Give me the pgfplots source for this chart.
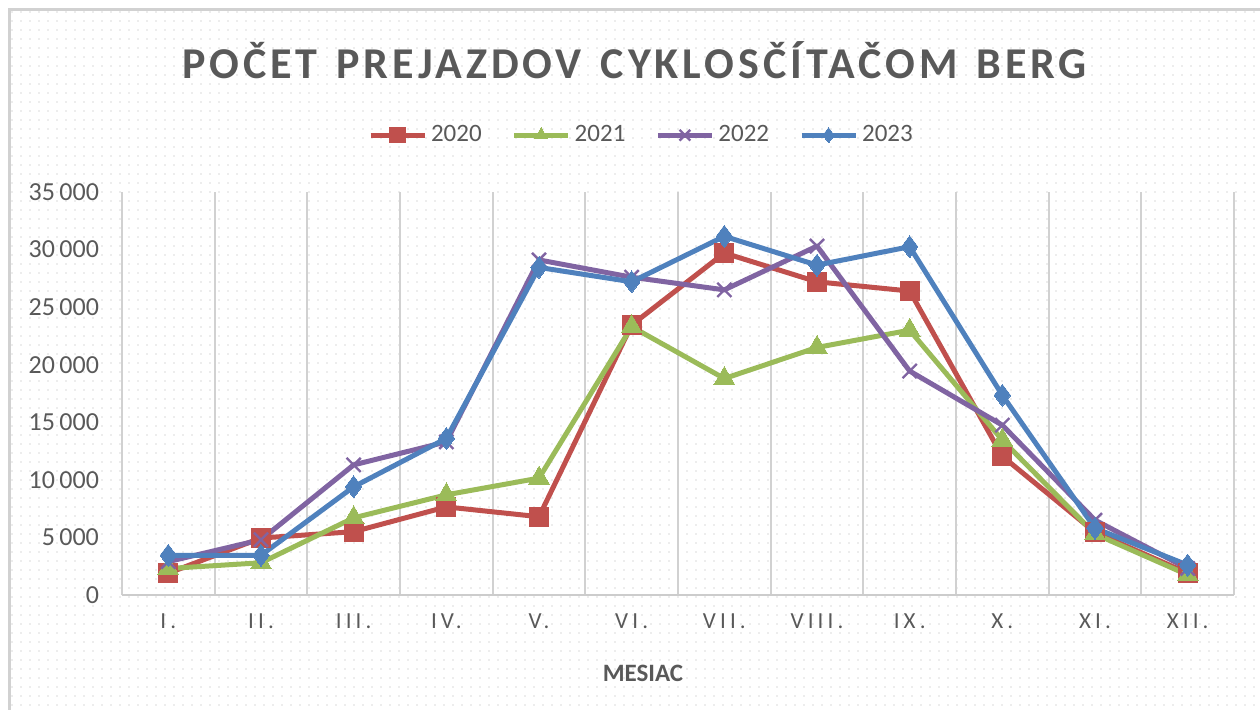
\documentclass[border=0pt]{standalone}
\usepackage{pgfplots}
\pgfplotsset{compat=1.18}
\usepackage{fontspec}
\setmainfont{Carlito}
\usetikzlibrary{patterns.meta}
\definecolor{txt}{HTML}{595959}
\definecolor{c20}{HTML}{C0504D}
\definecolor{c21}{HTML}{9BBB59}
\definecolor{c22}{HTML}{8064A2}
\definecolor{c23}{HTML}{4F81BD}
\tikzdeclarepattern{name=exceldots, type=uncolored,
  bounding box={(0pt,0pt) and (4.25pt,4.25pt)}, tile size={(4.25pt,4.25pt)},
  code={\fill (2.125pt,2.125pt) circle (0.42pt);}}
\begin{document}
\begin{tikzpicture}
\useasboundingbox (0pt,0pt) rectangle (630pt,354.5pt);
\fill[pattern=exceldots, pattern color=black!14] (4.5pt,-5pt) rectangle (640pt,349.5pt);
\draw[black!18, line width=1.5pt] (4.5pt,-5pt) -- (4.5pt,349.5pt) -- (640pt,349.5pt);
\begin{axis}[
  at={(61pt,57pt)}, anchor=south west,
  scale only axis, width=556pt, height=201.5pt,
  xmin=-0.5, xmax=11.5, ymin=0, ymax=35000,
  axis x line*=bottom, axis y line*=left,
  x axis line style={draw=black!20, line width=1pt, -},
  y axis line style={draw=none},
  xtick={0,...,11},
  xticklabels={I.,II.,III.,IV.,V.,VI.,VII.,VIII.,IX.,X.,XI.,XII.},
  minor xtick={-0.5,0.5,...,11.5},
  xminorgrids, minor grid style={black!18, line width=1pt},
  ytick={0,5000,...,35000},
  major tick length=0pt, minor tick length=0pt,
  tick style={draw=none},
  scaled y ticks=false,
  /pgf/number format/.cd, 1000 sep={\,}, assume math mode=true,
  /pgfplots/.cd,
  yticklabel style={font=\fontsize{13}{15}\selectfont, text=txt, anchor=east, xshift=-8pt},
  xticklabel style={font=\fontsize{11.5}{13}\selectfont\addfontfeature{LetterSpace=18}, text=txt, anchor=north, yshift=-6pt},
  xlabel={\textbf{MESIAC}},
  xlabel style={font=\fontsize{12.5}{14}\selectfont, text=txt, at={(axis description cs:0.4685,-0.1935)}, anchor=center},
  title={\addfontfeature{LetterSpace=9}POČET \hspace{2.5pt}PREJAZDOV \hspace{2.5pt}CYKLOSČÍTAČOM \hspace{2.5pt}BERG},
  title style={font=\fontsize{22}{26}\selectfont\bfseries, text=txt, at={(axis description cs:0.461,1.3226)}, anchor=center, yshift=-5pt},
  legend style={at={(axis description cs:0.468,1.141)}, anchor=center, draw=none, fill=none,
    font=\fontsize{12.5}{14}\selectfont, text=txt,
    /tikz/every even column/.append style={column sep=13pt},
    /tikz/every odd column/.append style={column sep=0pt}},
  legend columns=4,
  legend cell align=left,
  legend image code/.code={\draw[mark repeat=2,mark phase=2, mark size=3.8pt] plot coordinates {(0pt,0pt)(13.5pt,0pt)(27pt,0pt)};},
  every axis plot/.append style={line width=2.5pt, line join=round},
  clip=false,
]
\addplot[c20, mark=square*, mark size=4.8pt, mark options={solid, line width=0pt}] coordinates {
(0,1900) (1,4950) (2,5500) (3,7650) (4,6800) (5,23450) (6,29700) (7,27200) (8,26400) (9,12050) (10,5450) (11,1900)};
\addlegendentry{2020}
\addplot[c21, mark=triangle*, mark size=6pt, mark options={solid, line width=0pt}] coordinates {
(0,2300) (1,2800) (2,6700) (3,8700) (4,10150) (5,23300) (6,18800) (7,21500) (8,23000) (9,13450) (10,5300) (11,1750)};
\addlegendentry{2021}
\addplot[c22, mark=x, mark size=5pt, mark options={solid, line width=1.2pt}] coordinates {
(0,2900) (1,4800) (2,11300) (3,13300) (4,29100) (5,27600) (6,26500) (7,30300) (8,19450) (9,14750) (10,6500) (11,2300)};
\addlegendentry{2022}
\addplot[c23, mark=diamond*, mark size=5.5pt, mark options={solid, line width=0pt}] coordinates {
(0,3450) (1,3450) (2,9400) (3,13600) (4,28450) (5,27200) (6,31150) (7,28650) (8,30250) (9,17350) (10,5800) (11,2600)};
\addlegendentry{2023}
\end{axis}
\end{tikzpicture}
\end{document}
